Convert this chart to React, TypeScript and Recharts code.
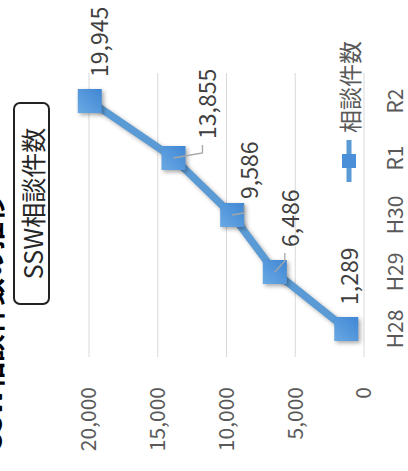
import React from "react";
import { LineChart, Line, XAxis, YAxis, CartesianGrid } from "recharts";

const years = ["H28", "H29", "H30", "R1", "R2"];
const consultations = [1289, 6486, 9586, 13855, 19945];
const valueTicks = [0, 5000, 10000, 15000, 20000];
const seriesName = "相談件数";

// where each data label sits relative to its point (chart frame, before rotation)
const labelNudge = [
    { dx: 24, dy: 2, leader: false },
    { dx: 25, dy: 14, leader: true },
    { dx: 16, dy: 16, leader: true },
    { dx: 19, dy: 33, leader: true },
    { dx: 24, dy: 8, leader: false },
];

const FONT = '"Noto Sans CJK JP", "Noto Sans", sans-serif';
const BLUE = "#5b9bd5";

const data = years.map((year, i) => ({ year, count: consultations[i] }));

const fmt = (v: number) => Number(v).toLocaleString("en-US");

const SquareDot = (props: any) => {
    const { cx, cy, index, value } = props;
    const n = labelNudge[index] || { dx: 20, dy: 0, leader: false };
    const s = 24;
    const tx = cx + n.dx;
    const ty = cy + n.dy;
    return (
        <g key={`pt-${index}`}>
            <defs>
                <linearGradient id={`mk${index}`} x1="0" y1="0" x2="1" y2="1">
                    <stop offset="0%" stopColor="#6aa9e3" />
                    <stop offset="100%" stopColor="#3f86d4" />
                </linearGradient>
            </defs>
            <rect
                x={cx - s / 2}
                y={cy - s / 2}
                width={s}
                height={s}
                fill={`url(#mk${index})`}
                style={{ filter: "drop-shadow(-2px 2px 2px rgba(0,0,0,0.35))" }}
            />
            {n.leader && (
                <polyline
                    points={`${cx},${cy} ${tx - 14},${ty - 4} ${tx - 6},${ty - 4}`}
                    fill="none"
                    stroke="#a6a6a6"
                    strokeWidth={1.3}
                />
            )}
            <text x={tx} y={ty} dominantBaseline="central" fontSize={23} fill="#404040">
                {fmt(value)}
            </text>
        </g>
    );
};

export default function App() {
    return (
        <div
            style={{
                position: "absolute",
                top: 0,
                left: 0,
                width: 408,
                height: 471,
                overflow: "hidden",
                background: "#fff",
                fontFamily: FONT,
            }}
        >
            <style>{`.recharts-line-curve { filter: drop-shadow(-2px 2px 2px rgba(0,0,0,0.3)); }`}</style>
            {/* the whole slide is turned a quarter turn counter-clockwise */}
            <div
                style={{
                    position: "absolute",
                    left: 0,
                    top: 0,
                    width: 471,
                    height: 408,
                    transformOrigin: "0 0",
                    transform: "translateY(471px) rotate(-90deg)",
                }}
            >
                <div
                    style={{
                        position: "absolute",
                        left: 21,
                        top: -24,
                        fontSize: 28,
                        lineHeight: "28px",
                        fontWeight: 700,
                        color: "#000",
                        whiteSpace: "nowrap",
                    }}
                >
                    SSW相談件数の推移
                </div>
                <div
                    style={{
                        position: "absolute",
                        left: 166,
                        top: 13,
                        width: 203,
                        height: 37,
                        boxSizing: "border-box",
                        border: "2px solid #222",
                        borderRadius: 7,
                        display: "flex",
                        alignItems: "center",
                        justifyContent: "center",
                        fontSize: 25,
                        color: "#262626",
                        whiteSpace: "nowrap",
                    }}
                >
                    SSW相談件数
                </div>

                <LineChart
                    width={471}
                    height={408}
                    data={data}
                    margin={{ top: 89, right: 73, bottom: 4, left: 24 }}
                >
                    <CartesianGrid vertical={false} stroke="#d9d9d9" strokeWidth={1} />
                    <XAxis
                        dataKey="year"
                        height={40}
                        padding={{ left: 28, right: 28 }}
                        axisLine={false}
                        tickLine={false}
                        tickSize={0}
                        tickMargin={24}
                        tick={{ fontSize: 21, fill: "#595959" }}
                        interval={0}
                    />
                    <YAxis
                        type="number"
                        domain={[0, 20000]}
                        ticks={valueTicks}
                        interval={0}
                        width={90}
                        axisLine={false}
                        tickLine={false}
                        tickSize={0}
                        tickMargin={30}
                        tick={{ fontSize: 21, fill: "#595959" }}
                        tickFormatter={fmt}
                    />
                    <Line
                        type="linear"
                        dataKey="count"
                        name={seriesName}
                        stroke={BLUE}
                        strokeWidth={7.5}
                        dot={SquareDot}
                        activeDot={false}
                        isAnimationActive={false}
                    />
                </LineChart>

                <div
                    style={{
                        position: "absolute",
                        left: 289,
                        top: 333,
                        height: 32,
                        display: "flex",
                        alignItems: "center",
                        gap: 7,
                        fontSize: 23,
                        color: "#595959",
                        whiteSpace: "nowrap",
                    }}
                >
                    <svg width={42} height={16}>
                        <line x1={0} y1={8} x2={42} y2={8} stroke={BLUE} strokeWidth={5} />
                        <rect x={14} y={1} width={14} height={14} fill="#4a8fd8" />
                    </svg>
                    <span>{seriesName}</span>
                </div>
            </div>
        </div>
    );
}
